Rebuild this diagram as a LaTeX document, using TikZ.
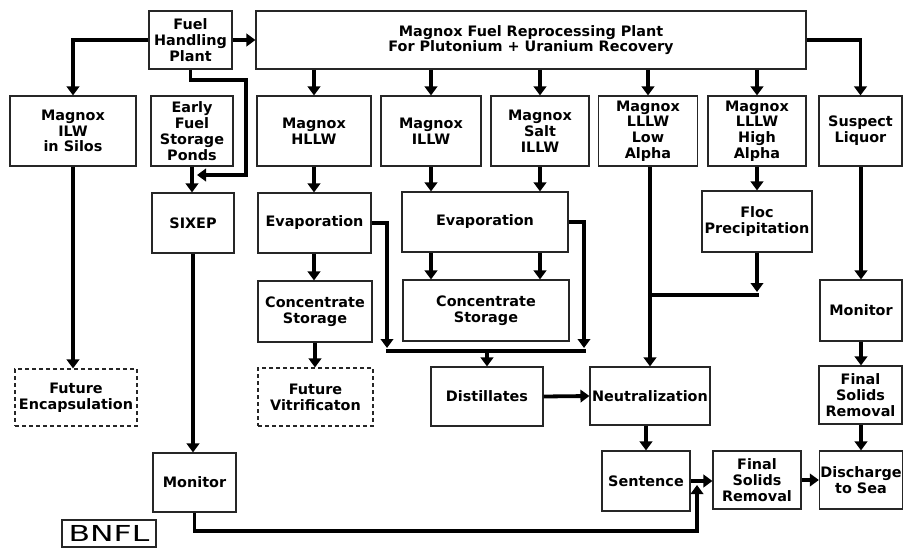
\documentclass[tikz,border=0pt]{standalone}
\usepackage{fontspec}
\usepackage{graphicx}
\setmainfont{DejaVu Sans}
\usetikzlibrary{arrows.meta,calc}
\tikzset{
  box/.style={draw=black!85, line width=1.1pt, rectangle, align=center, inner xsep=1pt, inner ysep=1pt,
    font=\fontsize{14.4}{15.8}\selectfont\bfseries},
  dbox/.style={box, dashed, dash pattern=on 4pt off 3pt},
  conn/.style={line width=3.8pt, draw=black},
  arr/.style={conn, -{Triangle[width=12.5pt,length=9pt]}}
}
\begin{document}
\begin{tikzpicture}[x=1pt,y=-1pt]
\useasboundingbox (0,0) rectangle (904,548);
% row 1
\node[box, minimum width=83pt, minimum height=58pt] (fhp) at (190.5,40) {Fuel\\Handling\\Plant};
\node[box, minimum width=550pt, minimum height=58pt] (main) at (531,40) {Magnox Fuel Reprocessing Plant\\For Plutonium + Uranium Recovery};
% row 2
\node[box, minimum width=126pt, minimum height=70pt] (silos) at (73,131) {Magnox\\ILW\\in Silos};
\node[box, minimum width=82pt, minimum height=70pt] (ponds) at (192,131) {Early\\Fuel\\Storage\\Ponds};
\node[box, minimum width=114pt, minimum height=70pt] (hllw) at (314,131) {Magnox\\HLLW};
\node[box, minimum width=100pt, minimum height=70pt] (illw) at (431,131) {Magnox\\ILLW};
\node[box, minimum width=98pt, minimum height=70pt] (salt) at (540,131) {Magnox\\Salt\\ILLW};
\node[box, minimum width=99pt, minimum height=70pt] (low) at (648,131) {Magnox\\LLLW\\Low\\Alpha};
\node[box, minimum width=98pt, minimum height=70pt] (high) at (757,131) {Magnox\\LLLW\\High\\Alpha};
\node[box, minimum width=83pt, minimum height=70pt] (susp) at (860.5,131) {Suspect\\Liquor};
% row 3
\node[box, minimum width=82pt, minimum height=60pt] (sixep) at (193,223) {SIXEP};
\node[box, minimum width=113pt, minimum height=60pt] (evap1) at (314.5,223) {Evaporation};
\node[box, minimum width=166pt, minimum height=60pt] (evap2) at (485,222) {Evaporation};
\node[box, minimum width=110pt, minimum height=61pt] (floc) at (757,221.5) {Floc\\Precipitation};
% row 4
\node[box, minimum width=114pt, minimum height=61pt] (conc1) at (315,311.5) {Concentrate\\Storage};
\node[box, minimum width=166pt, minimum height=61pt] (conc2) at (486,310.5) {Concentrate\\Storage};
\node[box, minimum width=82pt, minimum height=61pt] (monR) at (861,310.5) {Monitor};
% row 5
\node[dbox, minimum width=122pt, minimum height=57pt] (futenc) at (76,397.5) {Future\\Encapsulation};
\node[dbox, minimum width=115pt, minimum height=58pt] (futvit) at (315.5,397) {Future\\Vitrificaton};
\node[box, minimum width=112pt, minimum height=59pt] (dist) at (487,396.5) {Distillates};
\node[box, minimum width=120pt, minimum height=58pt] (neut) at (650,396) {Neutralization};
\node[box, minimum width=83pt, minimum height=58pt] (fsrR) at (860.5,395) {Final\\Solids\\Removal};
% row 6
\node[box, minimum width=83pt, minimum height=59pt] (monL) at (194.5,482.5) {Monitor};
\node[box, minimum width=88pt, minimum height=60pt] (sent) at (646,481) {Sentence};
\node[box, minimum width=88pt, minimum height=58pt] (fsrM) at (757,480) {Final\\Solids\\Removal};
\node[box, minimum width=82pt, minimum height=58pt] (sea) at (861,480) {Discharge\\to Sea};
\node[draw=black!85, line width=1.3pt, minimum width=94pt, minimum height=27pt, inner sep=0pt] (bnfl) at (109,533.5)
  {\scalebox{1.43}[1]{\fontsize{22}{22}\selectfont BNFL}};
% coordinates
\coordinate (fa) at (246,80);
\coordinate (fb) at (197,175);
\coordinate (mc) at (697,531);
\coordinate (mb) at (697,485);
\coordinate (b1) at (387,348);
\coordinate (b2) at (584,348);
\coordinate (bl) at (386,351);
\coordinate (br) at (586,351);
\coordinate (bm) at (487,351);
\coordinate (ft) at (757,292);
\coordinate (fl) at (759,295);
% connectors
\draw[arr] (fhp.west) -| (silos.north);
\draw[arr] (fhp.east) -- (main.west);
\draw[arr] (fhp.south) |- (fa) |- (fb);
\draw[arr] (ponds.south) -- (ponds.south |- sixep.north);
\draw[arr] (sixep.south) -- (sixep.south |- monL.north);
\draw[arr] (monL.south) |- (mc) -- (mb);
\draw[arr] (silos.south) -- (silos.south |- futenc.north);
\foreach \n in {hllw,illw,salt,low,high}{
  \draw[arr] (main.south -| \n.north) -- (\n.north);
}
\draw[arr] (main.east) -| (susp.north);
\draw[arr] (hllw.south) -- (hllw.south |- evap1.north);
\draw[arr] (illw.south) -- (illw.south |- evap2.north);
\draw[arr] (salt.south) -- (salt.south |- evap2.north);
\draw[arr] (high.south) -- (high.south |- floc.north);
\draw[arr] (evap1.south -| hllw.south) -- (conc1.north -| hllw.south);
\draw[arr] (evap2.south -| illw.south) -- (conc2.north -| illw.south);
\draw[arr] (evap2.south -| salt.south) -- (conc2.north -| salt.south);
\draw[arr] (conc1.south) -- (conc1.south |- futvit.north);
\draw[arr] (evap1.east) -| (b1);
\draw[arr] (evap2.east) -| (b2);
\draw[conn] (bl) -- (br);
\draw[arr] (bm) -- (dist.north);
\draw[arr] (dist.east) -- (neut.west);
\draw[arr] (low.south -| neut.north) -- (neut.north);
\draw[arr] (floc.south) -- (ft);
\draw[conn] (neut.north |- fl) -- (fl);
\draw[arr] (susp.south -| monR.north) -- (monR.north);
\draw[arr] (monR.south) -- (fsrR.north -| monR.south);
\draw[arr] (fsrR.south -| sea.north) -- (sea.north);
\draw[arr] (neut.south -| sent.north) -- (sent.north);
\draw[arr] (sent.east) -- (fsrM.west |- sent.east);
\draw[arr] (fsrM.east) -- (sea.west);
\end{tikzpicture}
\end{document}
